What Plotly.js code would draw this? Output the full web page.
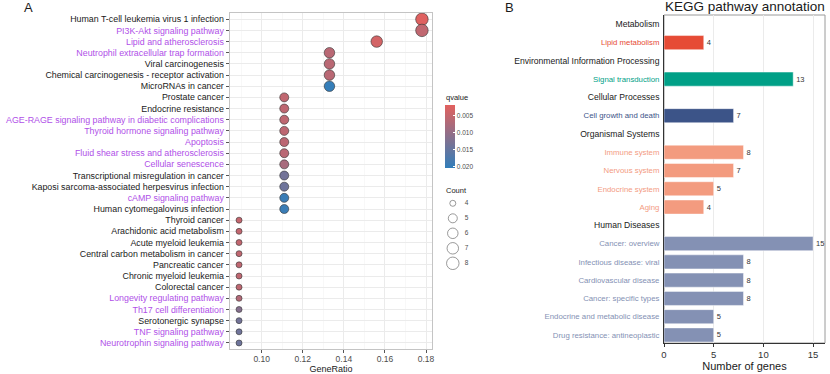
<!DOCTYPE html>
<html><head><meta charset="utf-8">
<script src="https://cdn.plot.ly/plotly-3.0.1.min.js"></script>
<style>body{margin:0;background:#fff}#c{width:830px;height:374px}</style>
</head><body><div id="c"></div><script>
// ---------- Panel A data ----------
const pathwaysA = [
  "Human T-cell leukemia virus 1 infection","PI3K-Akt signaling pathway","Lipid and atherosclerosis",
  "Neutrophil extracellular trap formation","Viral carcinogenesis","Chemical carcinogenesis - receptor activation",
  "MicroRNAs in cancer","Prostate cancer","Endocrine resistance","AGE-RAGE signaling pathway in diabetic complications",
  "Thyroid hormone signaling pathway","Apoptosis","Fluid shear stress and atherosclerosis","Cellular senescence",
  "Transcriptional misregulation in cancer","Kaposi sarcoma-associated herpesvirus infection","cAMP signaling pathway",
  "Human cytomegalovirus infection","Thyroid cancer","Arachidonic acid metabolism","Acute myeloid leukemia",
  "Central carbon metabolism in cancer","Pancreatic cancer","Chronic myeloid leukemia","Colorectal cancer",
  "Longevity regulating pathway","Th17 cell differentiation","Serotonergic synapse","TNF signaling pathway",
  "Neurotrophin signaling pathway"
];
const geneRatioA = [0.178,0.178,0.156,0.133,0.133,0.133,0.133,0.111,0.111,0.111,0.111,0.111,0.111,0.111,0.111,0.111,0.111,0.111,
  0.089,0.089,0.089,0.089,0.089,0.089,0.089,0.089,0.089,0.089,0.089,0.089];
const countA = [8,8,7,6,6,6,6,5,5,5,5,5,5,5,5,5,5,5,4,4,4,4,4,4,4,4,4,4,4,4];
const qvalueA = [0.0022,0.0055,0.0035,0.0062,0.0062,0.0062,0.0200,0.0055,0.0057,0.0057,0.0058,0.0060,0.0062,0.0080,0.0135,0.0140,0.0195,0.0195,
  0.0050,0.0052,0.0052,0.0055,0.0056,0.0056,0.0057,0.0068,0.0115,0.0135,0.0138,0.0140];
const highlightedA = ["PI3K-Akt signaling pathway","Lipid and atherosclerosis","Neutrophil extracellular trap formation",
  "AGE-RAGE signaling pathway in diabetic complications","Thyroid hormone signaling pathway","Apoptosis",
  "Fluid shear stress and atherosclerosis","Cellular senescence","cAMP signaling pathway","Longevity regulating pathway",
  "Th17 cell differentiation","TNF signaling pathway","Neurotrophin signaling pathway"];
const countLevels = [4,5,6,7,8];
const qTicks = [0.005,0.010,0.015,0.020];
const xTicksA = [0.10,0.12,0.14,0.16,0.18];

// ---------- Panel B data ----------
const keggTerms = ["Metabolism","Lipid metabolism","Environmental Information Processing","Signal transduction",
  "Cellular Processes","Cell growth and death","Organismal Systems","Immune system","Nervous system","Endocrine system","Aging",
  "Human Diseases","Cancer: overview","Infectious disease: viral","Cardiovascular disease","Cancer: specific types",
  "Endocrine and metabolic disease","Drug resistance: antineoplastic"];
const keggGenes = [null,4,null,13,null,7,null,8,7,5,4,null,15,8,8,8,5,5];
const keggGroup = ["header","Metabolism","header","Env","header","Cellular","header","Organismal","Organismal","Organismal","Organismal",
  "header","Human","Human","Human","Human","Human","Human"];
const xTicksB = [0,5,10,15];

// ---------- styles ----------
const groupColor = {Metabolism:"#E64B35",Env:"#00A087",Cellular:"#3C5488",Organismal:"#F39B7F",Human:"#8491B4",header:"#1a1a1a"};
const sizeOf = {4:6,5:9,6:10.5,7:11.5,8:12.5};
const FONT = "Liberation Sans, Arial, sans-serif";
const W = 830, H = 374;
const px = v => v / W, py = v => (H - v) / H;

const tickTextA = pathwaysA.map(p => highlightedA.includes(p)
  ? `<span style="color:#B050E8">${p}</span>` : `<span style="color:#1a1a1a">${p}</span>`);
const tickTextB = keggTerms.map((t, i) => keggGroup[i] === "header"
  ? `<span style="color:#1a1a1a;font-size:8.6px">${t}</span>`
  : `<span style="color:${groupColor[keggGroup[i]]}">${t}</span>`);

const traceA = {
  type: "scatter", mode: "markers", x: geneRatioA, y: pathwaysA, xaxis: "x", yaxis: "y",
  marker: {
    size: countA.map(c => sizeOf[c]),
    color: qvalueA.map(q => -q), cmin: -0.0203, cmax: -0.0019,
    colorscale: [[0, "#327eba"], [1, "#e2615e"]],
    line: {color: "#333", width: 0.6}, opacity: 1,
    showscale: true,
    colorbar: {
      x: px(445), xanchor: "left", y: py(105), yanchor: "top",
      len: 63, lenmode: "pixels", thickness: 10, thicknessmode: "pixels",
      xpad: 0, ypad: 0, outlinewidth: 0,
      tickvals: qTicks.map(q => -q), ticktext: qTicks.map(q => q.toFixed(3)),
      ticks: "inside", tickcolor: "#fff", ticklen: 2,
      tickfont: {size: 6.5, color: "#4d4d4d", family: FONT}
    }
  },
  hoverinfo: "x+y"
};

const traceLegend = {
  type: "scatter", mode: "markers", x: countLevels.map(() => 0.32), y: countLevels,
  xaxis: "x3", yaxis: "y3",
  marker: {size: countLevels.map(c => sizeOf[c]), color: "rgba(0,0,0,0)", line: {color: "#333", width: 0.7}},
  hoverinfo: "skip"
};
const traceLegendText = {
  type: "scatter", mode: "text", x: countLevels.map(() => 0.62), y: countLevels,
  xaxis: "x3", yaxis: "y3", text: countLevels.map(String), textposition: "middle right",
  textfont: {size: 6.5, color: "#4d4d4d", family: FONT}, hoverinfo: "skip"
};

const traceB = {
  type: "bar", orientation: "h", x: keggGenes, y: keggTerms, xaxis: "x2", yaxis: "y2",
  marker: {color: keggGroup.map(g => groupColor[g]), line: {color: "rgba(255,255,255,0.45)", width: 1}},
  text: keggGenes.map(v => v === null ? "" : String(v)), textposition: "outside", cliponaxis: false,
  textfont: {size: 7.5, color: "#333", family: FONT}, hoverinfo: "x+y"
};

const layout = {
  width: W, height: H, margin: {l: 0, r: 0, t: 0, b: 0},
  paper_bgcolor: "#fff", plot_bgcolor: "#fff", showlegend: false,
  font: {family: FONT, color: "#1a1a1a"},
  bargap: 0.23,
  xaxis: {
    domain: [px(230), px(432)], range: [0.0846, 0.1829],
    tickvals: xTicksA, tickformat: ".2f", ticks: "outside", ticklen: 3, tickcolor: "#555",
    tickfont: {size: 8.5, color: "#4d4d4d"}, ticklabelstandoff: -2,
    showgrid: true, gridcolor: "#ebebeb", gridwidth: 1,
    minor: {dtick: 0.01, showgrid: true, gridcolor: "#f4f4f4", gridwidth: 0.6},
    zeroline: false, showline: true, mirror: true, linecolor: "#c4c4c4", linewidth: 1.4,
    title: {text: "GeneRatio", font: {size: 9, color: "#1a1a1a"}, standoff: 2}
  },
  yaxis: {
    domain: [py(349), py(13)], type: "category", range: [29.54, -0.56],
    tickvals: pathwaysA, ticktext: tickTextA, ticks: "outside", ticklen: 3, tickcolor: "#555",
    tickfont: {size: 8.85}, showgrid: true, gridcolor: "#ebebeb", gridwidth: 1,
    zeroline: false, showline: true, mirror: true, linecolor: "#c4c4c4", linewidth: 1.4
  },
  xaxis2: {
    domain: [px(664), px(825)], range: [0, 16.2], anchor: "y2",
    tickvals: xTicksB, ticks: "outside", ticklen: 3, tickcolor: "#333",
    tickfont: {size: 9.5, color: "#333"},
    showgrid: true, gridcolor: "#ebebeb", zeroline: false,
    showline: true, linecolor: "#333", linewidth: 1,
    title: {text: "Number of genes", font: {size: 11, color: "#1a1a1a"}, standoff: 2}
  },
  yaxis2: {
    domain: [py(343), py(15)], type: "category", range: [17.44, -0.51], anchor: "x2",
    tickvals: keggTerms, ticktext: tickTextB, ticks: "", ticklabelstandoff: 2,
    tickfont: {size: 7.8}, showgrid: false, zeroline: false,
    showline: true, linecolor: "#333", linewidth: 1
  },
  xaxis3: {domain: [px(440), px(480)], range: [0, 1], anchor: "y3", visible: false, fixedrange: true},
  yaxis3: {domain: [py(270), py(196)], range: [8.447, 3.513], anchor: "x3", visible: false, fixedrange: true},
  shapes: [
    {type: "rect", xref: "x2 domain", yref: "y2 domain", x0: 0, x1: 1, y0: 0, y1: 1,
     line: {color: "#9a9a9a", width: 1}, fillcolor: "rgba(0,0,0,0)", layer: "below"}
  ],
  annotations: [
    {text: "A", xref: "paper", yref: "paper", x: px(22), y: py(8), xanchor: "left", yanchor: "middle",
     showarrow: false, font: {size: 13, color: "#1a1a1a"}},
    {text: "B", xref: "paper", yref: "paper", x: px(503), y: py(8), xanchor: "left", yanchor: "middle",
     showarrow: false, font: {size: 13, color: "#1a1a1a"}},
    {text: "KEGG pathway annotation", xref: "paper", yref: "paper", x: px(745), y: py(7),
     xanchor: "center", yanchor: "middle", showarrow: false, font: {size: 13.5, color: "#1a1a1a"}},
    {text: "qvalue", xref: "paper", yref: "paper", x: px(444), y: py(97), xanchor: "left", yanchor: "middle",
     showarrow: false, font: {size: 7.5, color: "#1a1a1a"}},
    {text: "Count", xref: "paper", yref: "paper", x: px(444), y: py(190), xanchor: "left", yanchor: "middle",
     showarrow: false, font: {size: 7.5, color: "#1a1a1a"}}
  ]
};

Plotly.newPlot("c", [traceA, traceB, traceLegend, traceLegendText], layout, {staticPlot: true, displayModeBar: false});
</script></body></html>
